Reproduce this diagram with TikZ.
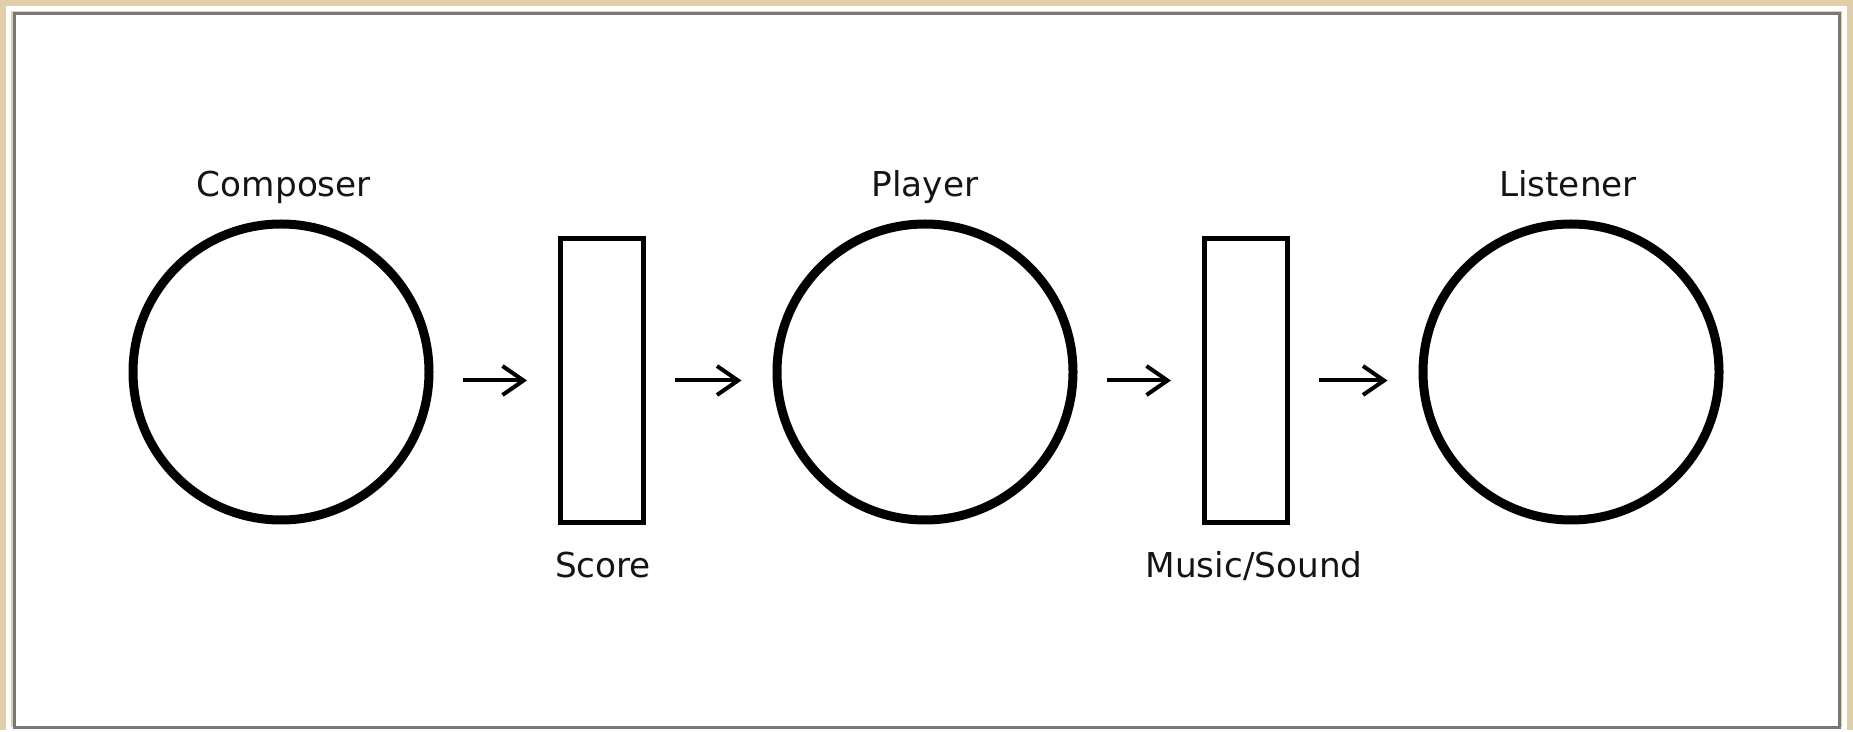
\documentclass[tikz,border=0pt]{standalone}
\usepackage{fontspec}
\setmainfont{DejaVu Sans}
\usetikzlibrary{arrows.meta,positioning}
\definecolor{paper}{RGB}{224,206,170}
\definecolor{framegray}{RGB}{120,120,120}
\definecolor{ink}{RGB}{20,20,20}
\begin{document}
\begin{tikzpicture}[every node/.style={font=\fontsize{19.5}{22}\selectfont,text=ink},
  role/.style={draw,circle,line width=0.18cm,minimum size=5.92cm,inner sep=0pt},
  medium/.style={draw,rectangle,line width=0.1cm,minimum width=1.66cm,minimum height=5.68cm,inner sep=0pt},
  tag/.style={anchor=base},
  flow/.style={-{Straight Barb[length=4.2mm,width=5.8mm]},line width=0.08cm,shorten <=0.58cm,shorten >=0.62cm}]
% background and frame
\fill[paper] (0,0) rectangle (37.06,14.6);
\draw[white,line width=0.1cm] (0.18,0.02) rectangle (36.88,14.42);
\draw[framegray,fill=white,line width=0.06cm] (0.28,0.06) rectangle (36.78,14.32);
% roles and media
\node[role] (composer) at (5.62,7.16) {};
\node[medium] (score) at (12.04,6.99) {};
\node[role] (player) at (18.50,7.16) {};
\node[medium] (music) at (24.92,6.99) {};
\node[role] (listener) at (31.42,7.16) {};
% labels
\node[tag] (composerlbl) at (5.68,10.66) {Composer};
\node[tag] (playerlbl) at (18.50,10.66) {Player};
\node[tag] (listenerlbl) at (31.36,10.66) {Listener};
\node[tag] (scorelbl) at (12.06,3.04) {Score};
\node[tag] (musiclbl) at (25.08,3.04) {Music/Sound};
\foreach \from/\to in {composer/score,score/player,player/music,music/listener}
  \draw[flow] (\from.east |- score) -- (\to.west |- score);
\end{tikzpicture}
\end{document}
